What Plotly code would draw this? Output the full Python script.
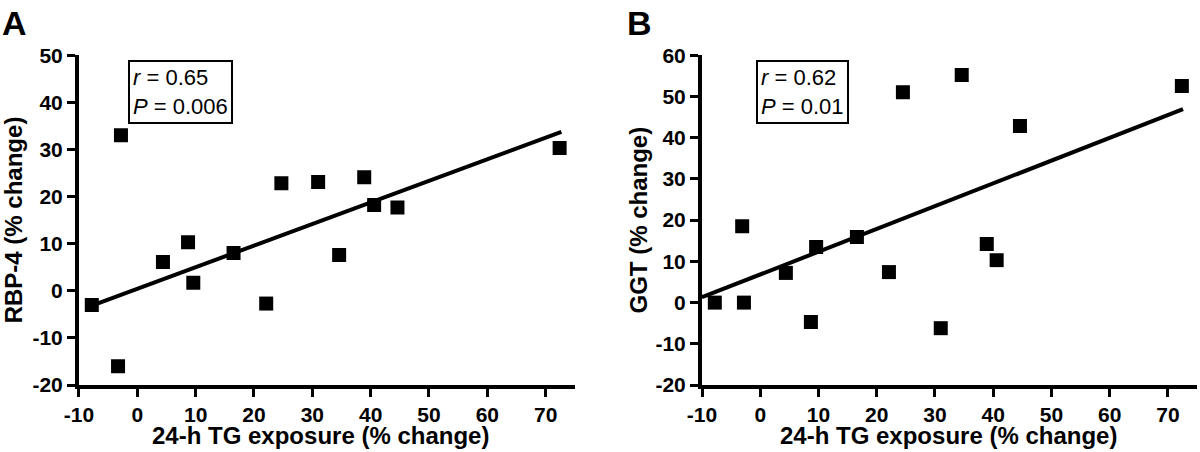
import plotly.graph_objects as go

# 面板A：RBP-4
a_x = [-7.8, -2.8, -3.3, 4.4, 8.7, 9.6, 16.5, 22.1, 24.7, 31.0, 34.6, 38.9, 40.6, 44.6, 72.4]
a_y = [-3.0, 33.0, -16.0, 6.1, 10.3, 1.7, 8.0, -2.7, 22.8, 23.1, 7.6, 24.1, 18.2, 17.7, 30.3]
a_fit_x = [-8.6, 72.7]
a_fit_y = [-3.5, 33.7]

# 面板B：GGT
b_x = [-7.8, -2.8, -3.1, 4.4, 8.7, 9.6, 16.6, 22.1, 24.5, 31.0, 34.6, 38.9, 40.6, 44.6, 72.4]
b_y = [0.0, 0.0, 18.5, 7.2, -4.7, 13.5, 15.9, 7.4, 51.0, -6.2, 55.2, 14.2, 10.3, 42.8, 52.5]
b_fit_x = [-10.0, 72.6]
b_fit_y = [1.3, 46.9]

x_ticks = [-10, 0, 10, 20, 30, 40, 50, 60, 70]
a_ticks = [-20, -10, 0, 10, 20, 30, 40, 50]
b_ticks = [-20, -10, 0, 10, 20, 30, 40, 50, 60]

FONT = "Liberation Sans, Arial, Helvetica, sans-serif"


def bold_labels(vals):
    # 粗体 + 普通连字符负号
    return [f"<b>{v}</b>" for v in vals]


fig = go.Figure()

# 散点 + 回归线
for xs, ys, fx, fy, ax in [(a_x, a_y, a_fit_x, a_fit_y, ""), (b_x, b_y, b_fit_x, b_fit_y, "2")]:
    fig.add_trace(go.Scatter(
        x=fx, y=fy, mode="lines",
        line=dict(color="black", width=4),
        xaxis="x" + ax, yaxis="y" + ax, showlegend=False,
    ))
    fig.add_trace(go.Scatter(
        x=xs, y=ys, mode="markers",
        marker=dict(symbol="square", size=14, color="black"),
        xaxis="x" + ax, yaxis="y" + ax, showlegend=False,
    ))

axis_style = dict(
    showline=True, linecolor="black", linewidth=4,
    ticks="outside", ticklen=8, tickwidth=3, tickcolor="black",
    showgrid=False, zeroline=False,
    tickfont=dict(family=FONT, size=21, color="black", weight="bold"),
    automargin=False, fixedrange=True,
)

y_dom = [0.148, 0.878]

fig.update_layout(
    width=1200, height=452,
    margin=dict(l=0, r=0, t=0, b=0),
    paper_bgcolor="white", plot_bgcolor="white",
    xaxis=dict(domain=[0.0658, 0.479], range=[-10, 75], tickvals=x_ticks, ticktext=bold_labels(x_ticks),
               anchor="y", **axis_style),
    yaxis=dict(domain=y_dom, range=[-20, 50], tickvals=a_ticks, ticktext=bold_labels(a_ticks),
               anchor="x", **axis_style),
    xaxis2=dict(domain=[0.585, 0.9975], range=[-10, 75], tickvals=x_ticks, ticktext=bold_labels(x_ticks),
                anchor="y2", **axis_style),
    yaxis2=dict(domain=y_dom, range=[-20, 60], tickvals=b_ticks, ticktext=bold_labels(b_ticks),
                anchor="x2", **axis_style),
)

title_font = dict(family=FONT, size=24, color="black")
letter_font = dict(family=FONT, size=34, color="black")
box_font = dict(family=FONT, size=22, color="black")
annos = [
    # 面板字母
    dict(text="<b>A</b>", x=0.0, y=0.995, xanchor="left", yanchor="top", font=letter_font),
    dict(text="<b>B</b>", x=0.521, y=0.995, xanchor="left", yanchor="top", font=letter_font),
    # 轴标题
    dict(text="<b>24-h TG exposure (% change)</b>", x=0.267, y=0.036, xanchor="center", yanchor="middle", font=title_font),
    dict(text="<b>24-h TG exposure (% change)</b>", x=0.79, y=0.036, xanchor="center", yanchor="middle", font=title_font),
    dict(text="<b>RBP-4 (% change)</b>", x=0.011, y=0.513, textangle=-90, xanchor="center", yanchor="middle", font=title_font),
    dict(text="<b>GGT (% change)</b>", x=0.532, y=0.513, textangle=-90, xanchor="center", yanchor="middle", font=title_font),
    # 统计框
    dict(text="<i>r</i> = 0.65<br><i>P</i> = 0.006", x=0.107, y=0.867, xanchor="left", yanchor="top", align="left",
         bordercolor="black", borderwidth=2, borderpad=3, font=box_font),
    dict(text="<i>r</i> = 0.62<br><i>P</i> = 0.01", x=0.63, y=0.867, xanchor="left", yanchor="top", align="left",
         bordercolor="black", borderwidth=2, borderpad=3, font=box_font),
]
for a in annos:
    a.update(xref="paper", yref="paper", showarrow=False)
fig.update_layout(annotations=annos)

# 去掉页面默认边距，让图从左上角开始；隐藏工具栏
fig.write_html("out.html", config={"displayModeBar": False},
               post_script="document.body.style.margin='0';")
